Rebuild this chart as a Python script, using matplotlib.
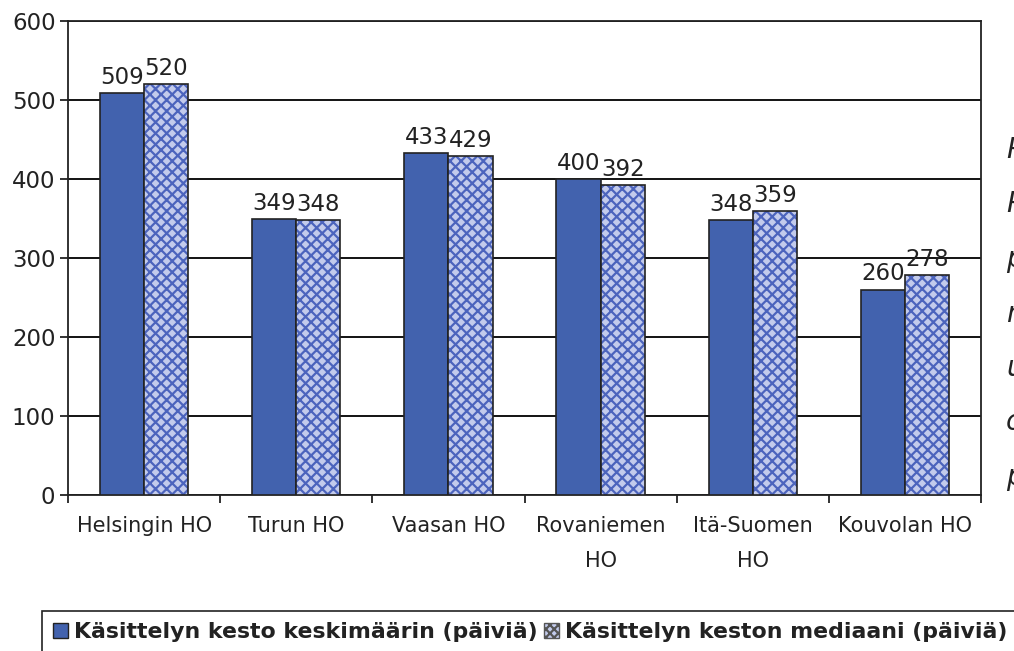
import numpy as np
import matplotlib.pyplot as plt
from matplotlib.patches import Patch

# values
offices = ["Helsingin HO", "Turun HO", "Vaasan HO", "Rovaniemen\nHO", "Itä-Suomen\nHO", "Kouvolan HO"]
mean_days = [509, 349, 433, 400, 348, 260]
median_days = [520, 348, 429, 392, 359, 278]
series_names = ["Käsittelyn kesto keskimäärin (päiviä)", "Käsittelyn keston mediaani (päiviä)"]
yticks = [0, 100, 200, 300, 400, 500, 600]
# fragments of text cut off at the right edge of the page
edge_letters = ["P", "P", "p", "n", "u", "o", "p"]

BLUE = '#4262ae'
HATCH_FACE = '#c3cbec'
HATCH_LINE = '#4c64bd'
INK = '#222222'


def draw():
	plt.rcParams['font.family'] = ['DejaVu Sans']
	plt.rcParams['hatch.linewidth'] = 1.6
	plt.rcParams['hatch.color'] = HATCH_LINE

	fig = plt.figure(figsize=(10.14, 6.51), dpi=100)
	ax = fig.add_axes([68 / 1014, 1 - 495 / 651, 913 / 1014, 474 / 651])

	x = np.arange(len(offices))
	w = 0.29
	ax.bar(x - w / 2, mean_days, w, color=BLUE, edgecolor=INK, linewidth=1.2, zorder=3)
	ax.bar(x + w / 2, median_days, w, color=HATCH_FACE, edgecolor=HATCH_LINE, linewidth=0,
		hatch='xxx', zorder=3)
	ax.bar(x + w / 2, median_days, w, fill=False, edgecolor=INK, linewidth=1.2, zorder=4)

	for xi, m, d in zip(x, mean_days, median_days):
		ax.annotate(str(m), (xi - w / 2, m), xytext=(0, 3), textcoords='offset points',
			ha='center', va='bottom', fontsize=16.5, color=INK, zorder=5)
		ax.annotate(str(d), (xi + w / 2, d), xytext=(0, 3), textcoords='offset points',
			ha='center', va='bottom', fontsize=16.5, color=INK, zorder=5)

	ax.set_xlim(-0.5, len(offices) - 0.5)
	ax.set_ylim(0, 600)
	ax.set_yticks(yticks)
	ax.yaxis.grid(True, color='black', linewidth=1.3, zorder=1)
	ax.set_axisbelow(True)
	ax.tick_params(axis='y', labelsize=16.5, length=6, width=1.3, pad=3, colors=INK)

	ax.set_xticks(x)
	ax.set_xticklabels(offices, fontsize=15, linespacing=1.95, color=INK)
	ax.set_xticks(np.arange(len(offices) + 1) - 0.5, minor=True)
	ax.tick_params(axis='x', which='major', length=0, pad=15)
	ax.tick_params(axis='x', which='minor', length=6, width=1.3, color=INK)

	for side in ['left', 'right', 'top', 'bottom']:
		ax.spines[side].set_color(INK)
		ax.spines[side].set_linewidth(1.3)

	handles = [Patch(facecolor=BLUE, edgecolor=INK, linewidth=1.0),
		Patch(facecolor=HATCH_FACE, edgecolor='#555555', linewidth=1.0, hatch='xxxx')]
	leg = fig.legend(handles, series_names, loc='upper left',
		bbox_to_anchor=(42 / 1014, 1 - 611 / 651), ncol=2, fancybox=False,
		edgecolor=INK, framealpha=1, borderaxespad=0, borderpad=0.5,
		handlelength=0.7, handleheight=0.7, handletextpad=0.25, columnspacing=0.3,
		prop={'size': 15.8, 'weight': 'bold'})
	leg.get_frame().set_linewidth(1.2)
	for t in leg.get_texts():
		t.set_color(INK)

	for i, ch in enumerate(edge_letters):
		fig.text(1006 / 1014, 1 - (150 + 54.5 * i) / 651, ch, fontsize=20, style='italic',
			ha='left', va='center', color=INK)

	fig.savefig('out.png', dpi=100)


def main():
	draw()


if __name__ == '__main__':
	main()
